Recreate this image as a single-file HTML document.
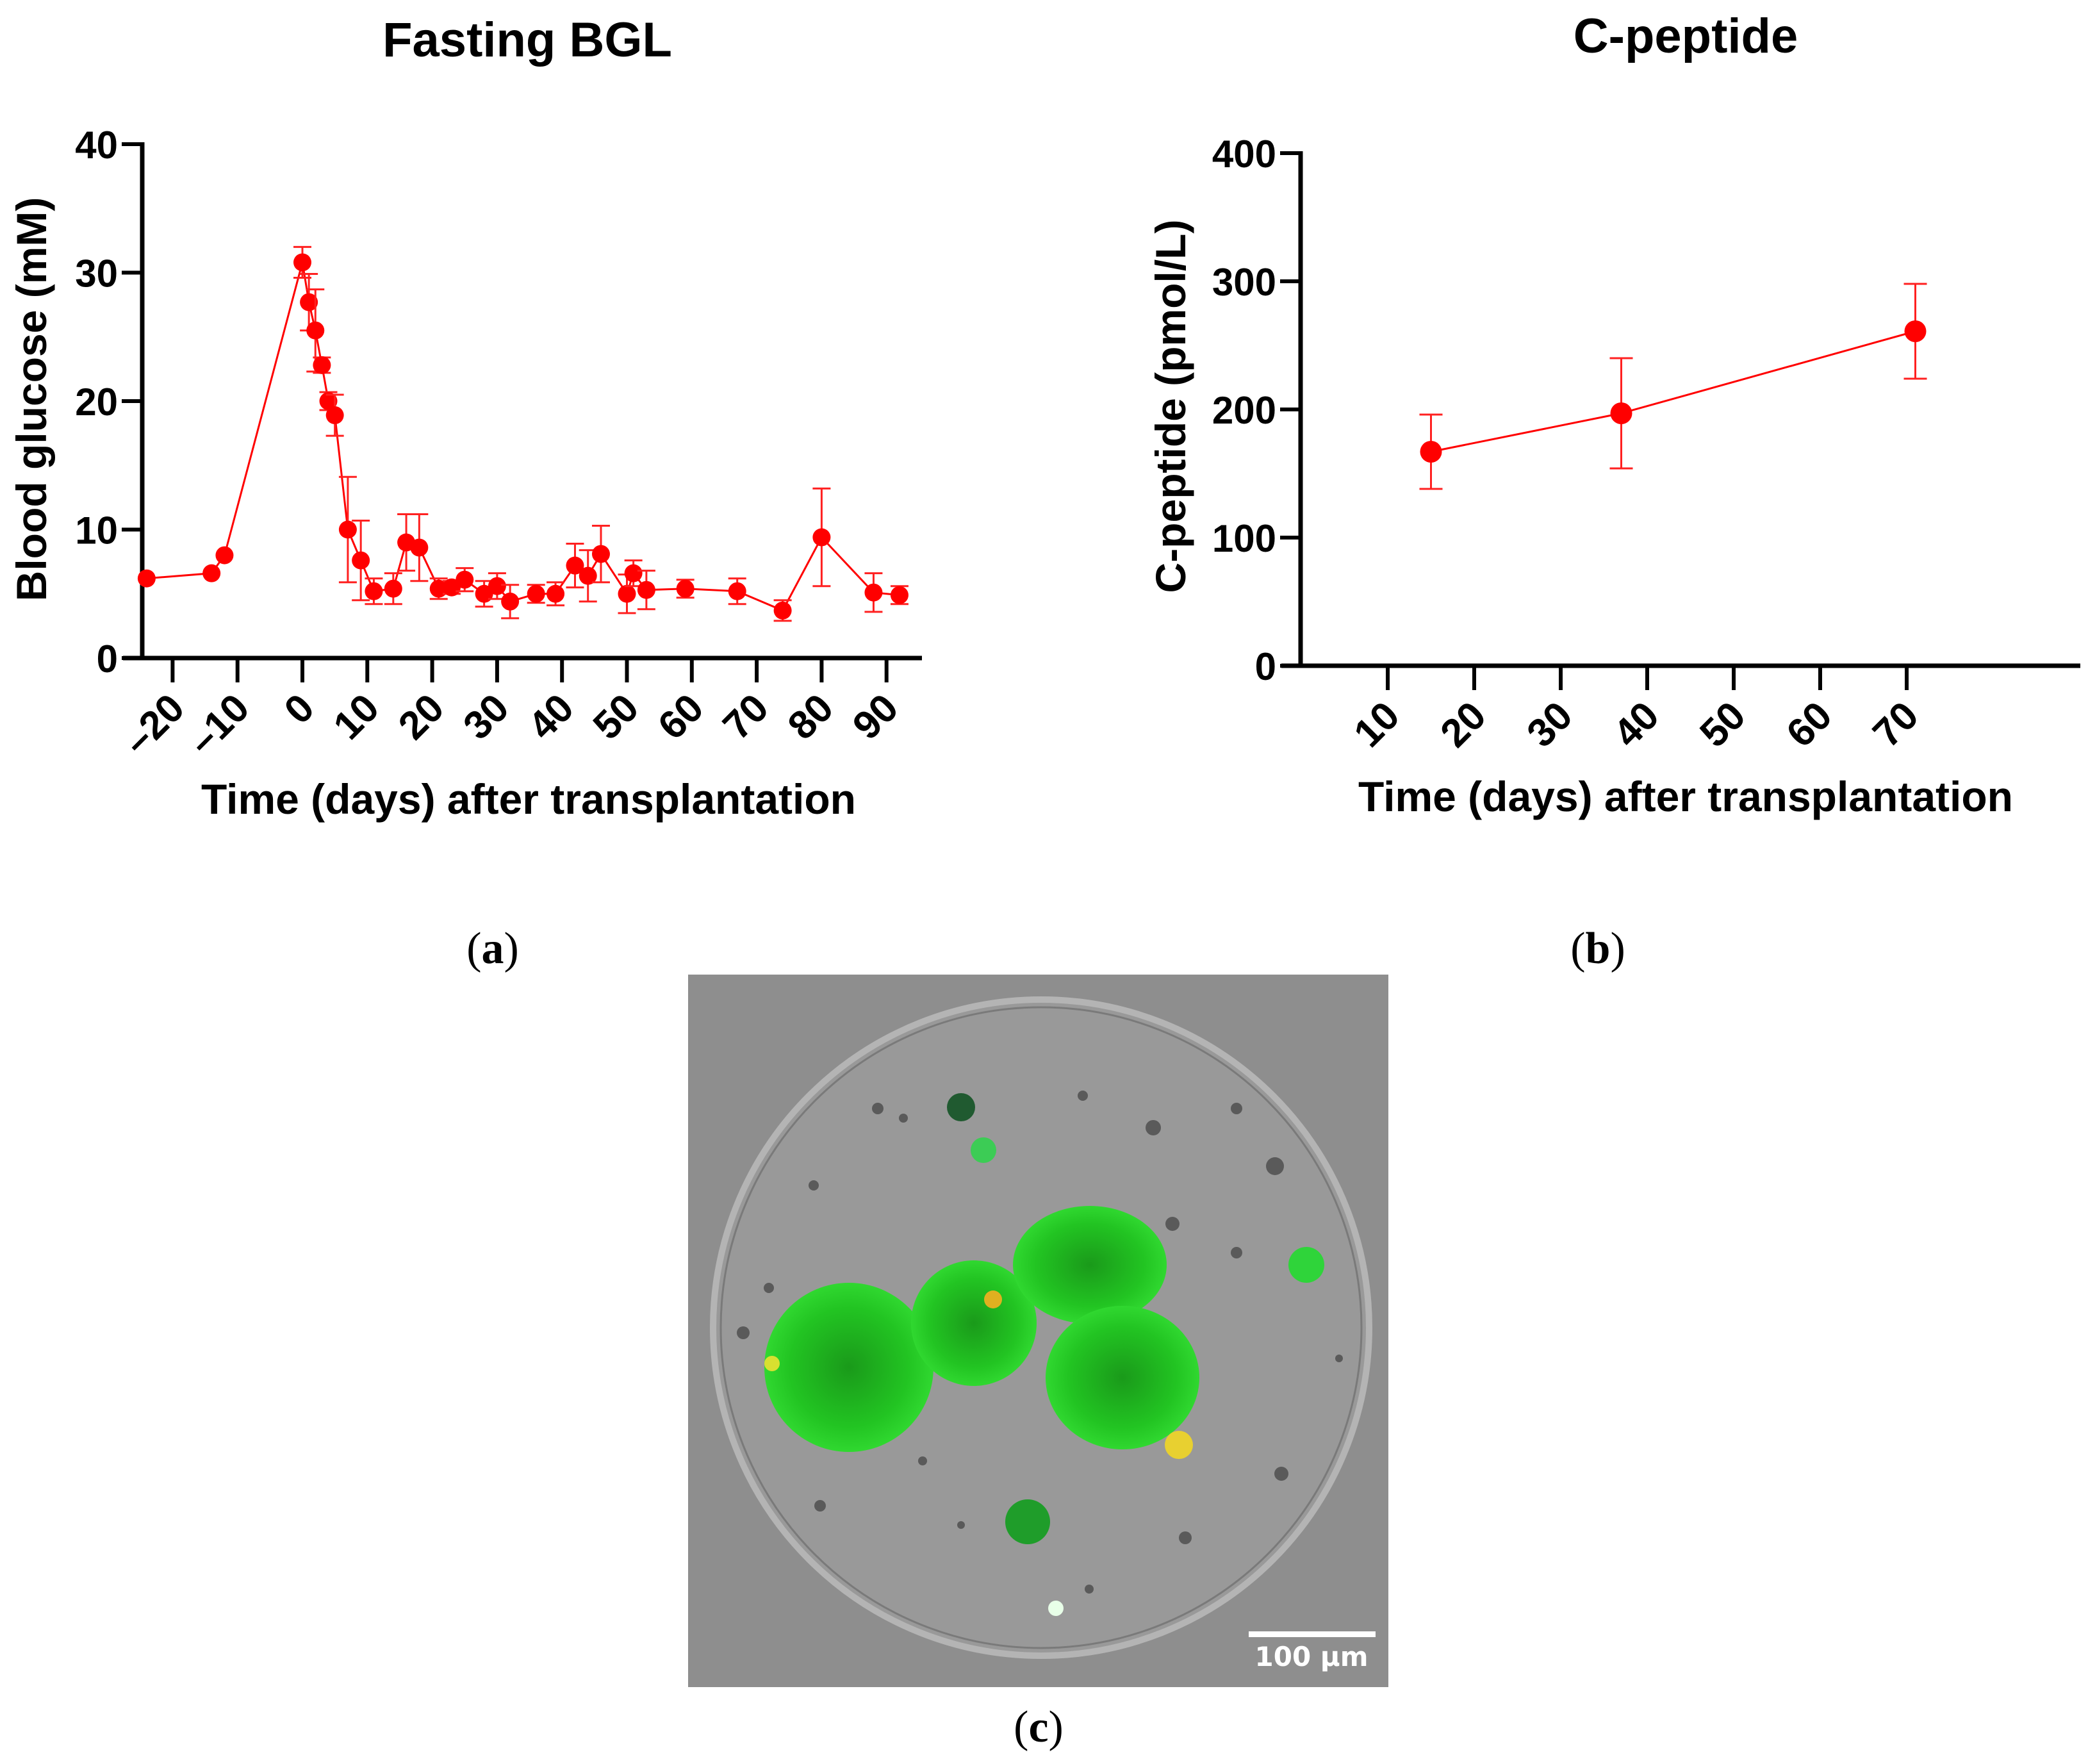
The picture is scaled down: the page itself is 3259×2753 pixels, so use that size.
<!DOCTYPE html>
<html><head><meta charset="utf-8">
<style>
html,body{margin:0;padding:0;background:#fff;}
svg{display:block;}
text{font-family:"Liberation Sans",Arial,sans-serif;font-weight:bold;fill:#000;}
.lab{font-family:"Liberation Serif",serif;font-weight:normal;font-size:70px;}
.lab tspan{font-weight:bold;}
</style></head>
<body>
<svg id="fig" width="3259" height="2753" viewBox="0 0 3259 2753" xmlns="http://www.w3.org/2000/svg">
  <g id="chartA"></g>
  <g id="chartB"></g>
  <text class="lab" x="769" y="1503" text-anchor="middle">(<tspan>a</tspan>)</text>
  <text class="lab" x="2494" y="1503" text-anchor="middle">(<tspan>b</tspan>)</text>
  <text class="lab" x="1621" y="2718" text-anchor="middle">(<tspan>c</tspan>)</text>
  <g>
    <defs>
      <radialGradient id="gg" cx="50%" cy="50%" r="50%">
        <stop offset="0" stop-color="#1a9a1a"/><stop offset="0.7" stop-color="#22c422"/><stop offset="1" stop-color="#30d830"/>
      </radialGradient>
      <clipPath id="imgclip"><rect x="1074" y="1521" width="1093" height="1112"/></clipPath>
    </defs>
    <g clip-path="url(#imgclip)">
      <rect x="1074" y="1521" width="1093" height="1112" fill="#8e8e8e"/>
      <circle cx="1625" cy="2072" r="512" fill="#999" stroke="#b4b4b4" stroke-width="10"/>
      <circle cx="1625" cy="2072" r="500" fill="none" stroke="#7a7a7a" stroke-width="3"/>
      <g fill="#5a5a5a">
        <circle cx="1370" cy="1730" r="9"/><circle cx="1410" cy="1745" r="7"/><circle cx="1690" cy="1710" r="8"/>
        <circle cx="1800" cy="1760" r="12"/><circle cx="1930" cy="1730" r="9"/><circle cx="1990" cy="1820" r="14"/>
        <circle cx="1270" cy="1850" r="8"/><circle cx="1830" cy="1910" r="11"/><circle cx="1930" cy="1955" r="9"/>
        <circle cx="1160" cy="2080" r="10"/><circle cx="1200" cy="2010" r="8"/><circle cx="2000" cy="2300" r="11"/>
        <circle cx="1280" cy="2350" r="9"/><circle cx="1440" cy="2280" r="7"/><circle cx="1850" cy="2400" r="10"/>
        <circle cx="1700" cy="2480" r="7"/><circle cx="1500" cy="2380" r="6"/><circle cx="2090" cy="2120" r="6"/>
      </g>
      <circle cx="1325" cy="2134" r="132" fill="url(#gg)"/>
      <circle cx="1520" cy="2065" r="98" fill="url(#gg)"/>
      <ellipse cx="1701" cy="1974" rx="120" ry="92" fill="url(#gg)"/>
      <ellipse cx="1752" cy="2150" rx="120" ry="112" fill="url(#gg)"/>
      <circle cx="1604" cy="2375" r="35" fill="#1f9d2a"/>
      <circle cx="2039" cy="1974" r="28" fill="#2fd43a"/>
      <circle cx="1500" cy="1728" r="22" fill="#205a30"/>
      <circle cx="1535" cy="1795" r="20" fill="#3ccc55"/>
      <circle cx="1840" cy="2255" r="22" fill="#e8d030"/>
      <circle cx="1550" cy="2028" r="14" fill="#e0b020"/>
      <circle cx="1205" cy="2128" r="12" fill="#d8e030"/>
      <circle cx="1648" cy="2510" r="12" fill="#e8ffe8"/>
      <rect x="1949" y="2546" width="198" height="9" fill="#fff"/>
      <text x="2047" y="2600" text-anchor="middle" style="font-family:'DejaVu Sans',sans-serif;font-weight:bold;font-size:42px;fill:#fff">100 µm</text>
    </g>
  </g>
</svg>
<script>
// ---- Chart A data ----
const bglDays = [-24,-14,-12,0,1,2,3,4,5,7,9,11,14,16,18,21,23,25,28,30,32,36,39,42,44,46,50,51,53,59,67,74,80,88,92];
const bglMean = [6.2,6.6,8.0,30.8,27.7,25.5,22.8,20.0,18.9,10.0,7.6,5.2,5.4,9.0,8.6,5.4,5.5,6.1,5.0,5.6,4.4,5.0,5.0,7.2,6.4,8.1,5.0,6.6,5.3,5.4,5.2,3.7,9.4,5.1,4.9];
const bglErr  = [0,0,0,1.2,2.2,3.2,0.6,0.7,1.6,4.1,3.1,1.0,1.2,2.2,2.6,0.8,0.5,0.9,1.0,1.0,1.3,0.7,0.9,1.7,2.0,2.2,1.5,1.0,1.5,0.7,1.0,0.8,3.8,1.5,0.7];
const bglXTicks = [-20,-10,0,10,20,30,40,50,60,70,80,90];
const bglYTicks = [0,10,20,30,40];
// ---- Chart B data ----
const cpDays = [15,37,71];
const cpMean = [167,197,261];
const cpErr  = [29,43,37];
const cpXTicks = [10,20,30,40,50,60,70];
const cpYTicks = [0,100,200,300,400];

const NS='http://www.w3.org/2000/svg';
function mk(parent,tag,attrs){const e=document.createElementNS(NS,tag);for(const k in attrs)e.setAttribute(k,attrs[k]);parent.appendChild(e);return e;}

function drawChart(g,cfg){
  const xs=v=>cfg.x0px+(v-cfg.x0)*cfg.xk;
  const ys=v=>cfg.y0px-(v-cfg.y0)*cfg.yk;
  const ya=mk(g,'line',{x1:cfg.axX,y1:ys(cfg.yTicks[cfg.yTicks.length-1])-3,x2:cfg.axX,y2:cfg.y0px+3,stroke:'#000','stroke-width':7});
  
  
  const xa=mk(g,'line',{x1:cfg.axStart,y1:cfg.y0px,x2:cfg.axEnd,y2:cfg.y0px,stroke:'#000','stroke-width':7});
  
  
  cfg.yTicks.forEach(t=>{
    const y=ys(t);
    const tk=mk(g,'line',{x1:cfg.axX-32,y1:y,x2:cfg.axX,y2:y,stroke:'#000','stroke-width':6});
    
    
    const tl=mk(g,'text',{x:cfg.axX-38,y:y+22,'text-anchor':'end','font-size':60});
    
    
    tl.textContent=String(t);
  });
  cfg.xTicks.forEach(t=>{
    const x=xs(t);
    const tk=mk(g,'line',{x1:x,y1:cfg.y0px,x2:x,y2:cfg.y0px+38,stroke:'#000','stroke-width':6});
    
    
    const lx=x+22, ly=cfg.y0px+82;
    const tl=mk(g,'text',{x:lx,y:ly,'text-anchor':'end','font-size':62,transform:`rotate(-45 ${lx} ${ly})`});
    
    
    tl.textContent=t<0?'\u2013'+(-t):String(t);
  });
  const pts=cfg.xv.map((d,i)=>xs(d)+','+ys(cfg.yv[i])).join(' ');
  const pl=mk(g,'polyline',{points:pts,fill:'none',stroke:'#ff0000','stroke-width':3});
  
  
  cfg.xv.forEach((d,i)=>{
    const x=xs(d),e=cfg.ev[i];
    if(e>0){
      const yt=ys(cfg.yv[i]+e),yb=ys(cfg.yv[i]-e);
      const eb=mk(g,'path',{d:`M${x},${yt}V${yb}M${x-cfg.cap},${yt}H${x+cfg.cap}M${x-cfg.cap},${yb}H${x+cfg.cap}`,stroke:'#ff2020','stroke-width':3,fill:'none'});
      
      
    }
    const c=mk(g,'circle',{cx:x,cy:ys(cfg.yv[i]),r:cfg.r,fill:'#ff0000'});
    
    
  });
  const ti=mk(g,'text',{x:cfg.titleX,y:cfg.titleY,'text-anchor':'middle','font-size':76});
  
  
  ti.textContent=cfg.title;
  const xt=mk(g,'text',{x:cfg.xtX,y:cfg.xtY,'text-anchor':'middle','font-size':66});
  
  
  xt.textContent='Time (days) after transplantation';
  const yt=mk(g,'text',{x:cfg.ytX,y:cfg.ytY,'text-anchor':'middle','font-size':66,transform:`rotate(-90 ${cfg.ytX} ${cfg.ytY})`});
  
  
  yt.textContent=cfg.ytitle;
}

drawChart(document.getElementById('chartA'),{
  x0:0,x0px:472,xk:10.13,y0:0,y0px:1027,yk:20.05,
  axX:222,axStart:192,axEnd:1439,
  xTicks:bglXTicks,yTicks:bglYTicks,xv:bglDays,yv:bglMean,ev:bglErr,
  r:14,cap:14,title:'Fasting BGL',titleX:823,titleY:88,
  xtX:825,xtY:1270,ytX:72,ytY:623,ytitle:'Blood glucose (mM)'
});
drawChart(document.getElementById('chartB'),{
  x0:10,x0px:2166,xk:13.5,y0:0,y0px:1039,yk:2.0,
  axX:2030,axStart:2000,axEnd:3247,
  xTicks:cpXTicks,yTicks:cpYTicks,xv:cpDays,yv:cpMean,ev:cpErr,
  r:17,cap:18,title:'C-peptide',titleX:2631,titleY:82,
  xtX:2631,xtY:1266,ytX:1850,ytY:634,ytitle:'C-peptide (pmol/L)'
});
</script>
</body></html>
